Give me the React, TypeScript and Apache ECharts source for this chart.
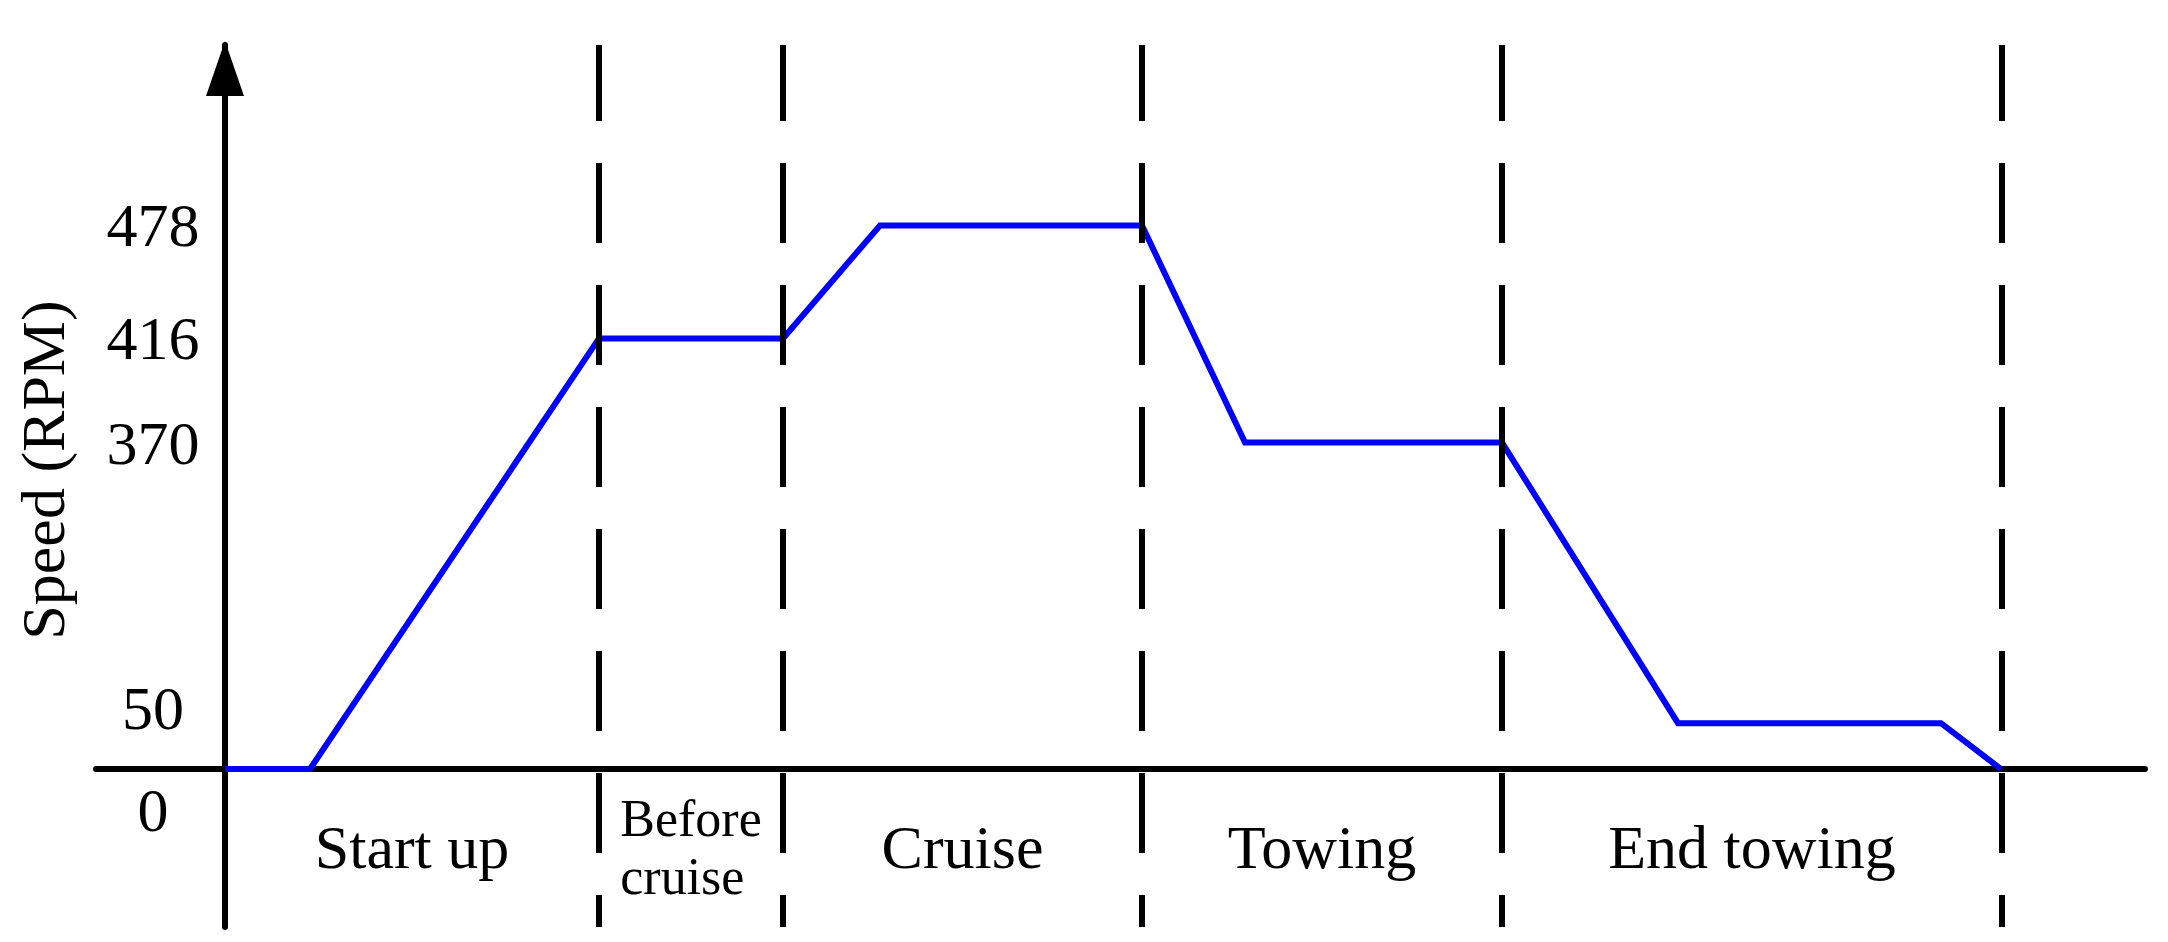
import { useEffect, useRef } from 'react';
import * as echarts from 'echarts';

const FONT = "'Liberation Serif', 'Times New Roman', Times, serif";

// Phases of the operation (time in arbitrary schematic units)
const phaseNames = ['Start up', 'Before cruise', 'Cruise', 'Towing', 'End towing'];
const phaseBounds = [0, 37.4, 55.8, 91.7, 127.7, 177.7];

// Speed profile
const timePoints = [0, 8.5, 37.4, 55.8, 65.5, 91.7, 102.0, 127.7, 145.3, 171.6, 177.6];
const speedRpm = [0, 0, 416, 416, 478, 478, 370, 370, 50, 50, 0];

// Labelled speed levels and where each one sits on the (schematic, non-linear) drawn axis
const speedTicks = [0, 50, 370, 416, 478];
const speedTickAxis = [0, 52, 370, 488, 616];

const timeMin = -12.9;
const timeMax = 192;
const axisMin = -179;
const axisMax = 820.5;

function toAxis(v: number): number {
  const i = speedTicks.indexOf(v);
  return i >= 0 ? speedTickAxis[i] : v;
}

export default function App() {
  const ref = useRef<HTMLDivElement>(null);

  useEffect(() => {
    if (!ref.current) return;
    const chart = echarts.init(ref.current, null, { renderer: 'svg' });

    const phaseCenters = phaseNames.map((_, i) => (phaseBounds[i] + phaseBounds[i + 1]) / 2);
    const lineData = timePoints.map((t, i) => [t, toAxis(speedRpm[i])]);

    const txt = { fontFamily: FONT, fontSize: 62, color: '#000' };

    const option: any = {
      animation: false,
      backgroundColor: '#ffffff',
      grid: { left: 96, right: 23, top: 45, bottom: 15, containLabel: false, outerBoundsMode: 'none' },
      xAxis: {
        type: 'value',
        min: timeMin,
        max: timeMax,
        axisLine: { show: true, onZero: true, lineStyle: { color: '#000', width: 6 } },
        axisTick: { show: false },
        splitLine: { show: false },
        axisLabel: {
          customValues: phaseCenters,
          margin: -80,
          align: 'center',
          verticalAlign: 'middle',
          formatter: (val: number) => {
            let idx = 0;
            let best = Infinity;
            phaseCenters.forEach((c, i) => {
              const d = Math.abs(c - val);
              if (d < best) { best = d; idx = i; }
            });
            const name = phaseNames[idx];
            if (name === 'Before cruise') return '{s|Before}\n{s|cruise}';
            return '{b|' + name + '}';
          },
          rich: {
            b: { ...txt, lineHeight: 70 },
            s: { fontFamily: FONT, fontSize: 52, color: '#000', lineHeight: 58, align: 'left' },
          },
        },
      },
      yAxis: {
        type: 'value',
        min: axisMin,
        max: axisMax,
        axisLine: {
          show: true,
          onZero: true,
          lineStyle: { color: '#000', width: 6 },
          symbol: ['none', 'triangle'],
          symbolSize: [38, 55],
          symbolOffset: [0, -23.5],
        },
        axisTick: { show: false },
        splitLine: { show: false },
        axisLabel: {
          customValues: speedTickAxis,
          margin: -57,
          align: 'center',
          verticalAlign: 'middle',
          formatter: (val: number) => {
            const i = speedTickAxis.findIndex((p) => Math.abs(p - val) < 1e-6);
            const lab = String(speedTicks[i]);
            if (lab === '0') return '{lo|0}';
            if (lab === '50') return '{up|50}';
            return '{n|' + lab + '}';
          },
          rich: {
            n: { ...txt },
            lo: { ...txt, padding: [82, 0, 0, 0] },
            up: { ...txt, padding: [0, 0, 30, 0] },
          },
        },
      },
      graphic: [
        {
          type: 'text',
          x: 42.6,
          y: 470,
          rotation: Math.PI / 2,
          style: {
            text: 'Speed (RPM)',
            fontFamily: FONT,
            fontSize: 62,
            fill: '#000',
            align: 'center',
            verticalAlign: 'middle',
          },
        },
      ],
      series: [
        {
          type: 'line',
          data: lineData,
          symbol: 'none',
          silent: true,
          lineStyle: { color: '#0000ff', width: 6, join: 'miter' },
          z: 3,
          markLine: {
            silent: true,
            symbol: ['none', 'none'],
            label: { show: false },
            emphasis: { disabled: true },
            lineStyle: { color: '#000', width: 6, type: [80, 42], dashOffset: 48 },
            data: phaseBounds.slice(1).map((v) => ({ xAxis: v })),
          },
        },
      ],
    };

    chart.setOption(option);
    return () => chart.dispose();
  }, []);

  return (
    <div
      ref={ref}
      style={{ position: 'absolute', left: 0, top: 0, width: 2168, height: 942, background: '#fff' }}
    />
  );
}
